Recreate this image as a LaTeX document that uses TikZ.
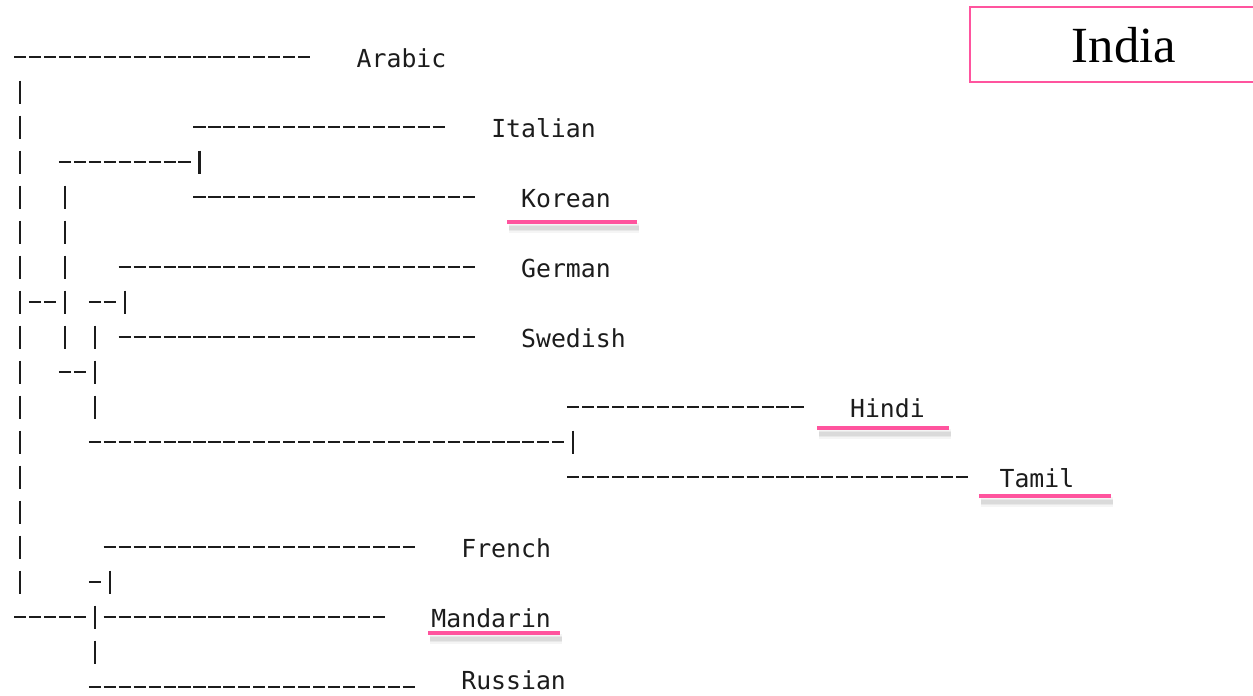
\documentclass[tikz,border=0pt]{standalone}
\usepackage{fontspec}
\newfontfamily\treefont{DejaVu Sans Mono}
\newfontfamily\titlefont{Liberation Serif}
\definecolor{hilite}{RGB}{255,84,158}
\definecolor{ink}{RGB}{28,28,28}

% character grid of the tree printout: cell width 14.95, row pitch 35 (px units)
\newcommand\treeh[3]{\draw[dashrun] ({12.6+14.95*(#2)+1.4},{57+35*(#1)}) -- ({12.6+14.95*((#3)+1)-1.4},{57+35*(#1)});}
\newcommand\treev[2]{\draw[treeline] ({20.1+14.95*(#2)},{57+35*(#1)-11.5}) -- ({20.1+14.95*(#2)},{57+35*(#1)+11.5});}
\newcommand\leafat[4]{\node[leaf] (#1) at ({12.6+14.95*(#3)},{57+35*(#2)+10}) {#4};}
% pink underline with a soft drop shadow
\newcommand\hiline[3]{%
  \draw[hishadow, line width=7pt, opacity=0.04] (#1+2,#3+6) -- (#2+2,#3+6);
  \draw[hishadow, line width=5pt, opacity=0.05] (#1+2,#3+6) -- (#2+2,#3+6);
  \draw[hishadow, line width=3pt, opacity=0.06] (#1+2,#3+6) -- (#2+2,#3+6);
  \draw[hilite, line width=3pt] (#1,#3) -- (#2,#3);}

\begin{document}
\begin{tikzpicture}[x=0.75pt,y=-0.75pt,
  treeline/.style={draw=ink, line width=1.7pt},
  dashrun/.style={treeline, dash pattern=on 9.1125pt off 2.1pt},
  leaf/.style={font=\treefont\fontsize{18.6}{20}\selectfont, text=ink, inner sep=0pt, anchor=base west},
  hishadow/.style={draw=black},
  titlebox/.style={draw=hilite, line width=1.5pt, fill=white, minimum width={308*0.75pt}, minimum height={75*0.75pt}, inner sep=0pt, font=\titlefont\fontsize{38}{42}\selectfont, text depth=0pt}
]
\clip (0,0) rectangle (1253,696);
\fill[white] (0,0) rectangle (1253,696);

% row 0
\treeh{0}{0}{19} \leafat{arabic}{0}{23}{Arabic}
% row 1
\treev{1}{0}
% row 2
\treev{2}{0} \treeh{2}{12}{28} \leafat{italian}{2}{32}{Italian}
% row 3
\treev{3}{0} \treeh{3}{3}{11} \treev{3}{12}
% row 4
\treev{4}{0} \treev{4}{3} \treeh{4}{12}{30} \leafat{korean}{4}{34}{Korean}
% row 5
\treev{5}{0} \treev{5}{3}
% row 6
\treev{6}{0} \treev{6}{3} \treeh{6}{7}{30} \leafat{german}{6}{34}{German}
% row 7
\treev{7}{0} \treeh{7}{1}{2} \treev{7}{3} \treeh{7}{5}{6} \treev{7}{7}
% row 8
\treev{8}{0} \treev{8}{3} \treev{8}{5} \treeh{8}{7}{30} \leafat{swedish}{8}{34}{Swedish}
% row 9
\treev{9}{0} \treeh{9}{3}{4} \treev{9}{5}
% row 10
\treev{10}{0} \treev{10}{5} \treeh{10}{37}{52} \leafat{hindi}{10}{56}{Hindi}
% row 11
\treev{11}{0} \treeh{11}{5}{36} \treev{11}{37}
% row 12
\treev{12}{0} \treeh{12}{37}{63} \leafat{tamil}{12}{66}{Tamil}
% row 13
\treev{13}{0}
% row 14
\treev{14}{0} \treeh{14}{6}{26} \leafat{french}{14}{30}{French}
% row 15
\treev{15}{0} \treeh{15}{5}{5} \treev{15}{6}
% row 16
\treeh{16}{0}{4} \treev{16}{5} \treeh{16}{6}{24} \leafat{mandarin}{16}{28}{Mandarin}
% row 17
\treev{17}{5}
% row 18 (label lifted a little so it stays on the page)
\treeh{18}{5}{26}
\node[leaf] (russian) at ({12.6+14.95*30},689) {Russian};

% highlighted languages
\hiline{507}{637}{222}
\hiline{817}{949}{428}
\hiline{979}{1111}{496}
\hiline{428}{560}{633}

% title box
\node[titlebox] (india) at (1124,44.5) {India};
\end{tikzpicture}
\end{document}
